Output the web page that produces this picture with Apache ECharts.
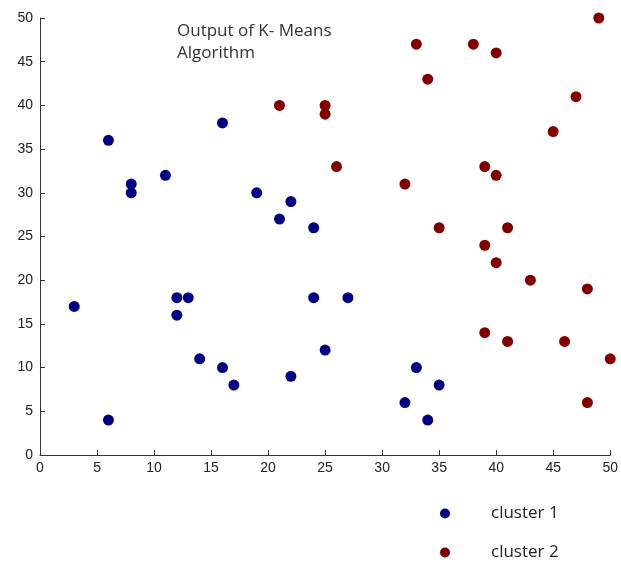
<!DOCTYPE html>
<html>
<head>
<meta charset="utf-8">
<script src="https://cdn.jsdelivr.net/npm/echarts@6/dist/echarts.min.js"></script>
<style>
  html, body { margin: 0; padding: 0; background: #fff; }
  #chart { width: 621px; height: 566px; }
</style>
</head>
<body>
<div id="chart"></div>
<script>
// Points, [x, y]
const cluster1 = [
    [3, 17], [6, 4], [6, 36], [8, 31], [8, 30], [11, 32], [12, 18], [13, 18],
    [12, 16], [14, 11], [16, 10], [16, 38], [17, 8], [19, 30], [21, 27], [22, 29],
    [22, 9], [24, 26], [24, 18], [25, 12], [27, 18], [32, 6], [33, 10], [34, 4], [35, 8]
];
const cluster2 = [
    [21, 40], [25, 40], [25, 39], [26, 33], [32, 31], [33, 47], [34, 43], [35, 26],
    [38, 47], [40, 46], [39, 33], [40, 32], [39, 24], [40, 22], [41, 26], [43, 20],
    [45, 37], [47, 41], [49, 50], [48, 19], [39, 14], [41, 13], [46, 13], [50, 11], [48, 6]
];
const seriesNames = ['cluster 1', 'cluster 2'];
const seriesColors = ['#000080', '#800000'];

const chart = echarts.init(document.getElementById('chart'));

const axisCommon = {
    type: 'value',
    min: 0,
    max: 50,
    interval: 5,
    splitLine: { show: false },
    axisLine: { show: true, lineStyle: { color: '#333', width: 1 } },
    axisTick: { show: true, inside: true, length: 5, lineStyle: { color: '#333' } },
    axisLabel: { color: '#222', fontFamily: 'Liberation Sans', fontSize: 14 }
};

chart.setOption({
    animation: false,
    grid: { left: 40, right: 10, top: 18, bottom: 111 },
    title: {
        text: 'Output of K- Means\nAlgorithm',
        left: 172,
        top: 15,
        textStyle: {
            fontFamily: 'Open Sans',
            fontSize: 17,
            fontWeight: 'normal',
            color: '#333',
            lineHeight: 22
        }
    },
    legend: {
        orient: 'vertical',
        left: 440,
        top: 505,
        padding: 0,
        itemGap: 22,
        itemWidth: 10,
        itemHeight: 10,
        icon: 'circle',
        data: seriesNames,
        textStyle: {
            fontFamily: 'Open Sans',
            fontSize: 17,
            color: '#222',
            padding: [0, 0, 0, 36]
        }
    },
    xAxis: Object.assign({}, axisCommon, {
        axisLabel: Object.assign({}, axisCommon.axisLabel, { margin: 6 })
    }),
    yAxis: Object.assign({}, axisCommon, {
        axisLabel: Object.assign({}, axisCommon.axisLabel, { margin: 7 })
    }),
    series: [
        {
            name: seriesNames[0],
            type: 'scatter',
            data: cluster1,
            symbolSize: 11,
            itemStyle: { color: seriesColors[0], opacity: 1 }
        },
        {
            name: seriesNames[1],
            type: 'scatter',
            data: cluster2,
            symbolSize: 11,
            itemStyle: { color: seriesColors[1], opacity: 1 }
        }
    ]
});
</script>
</body>
</html>
